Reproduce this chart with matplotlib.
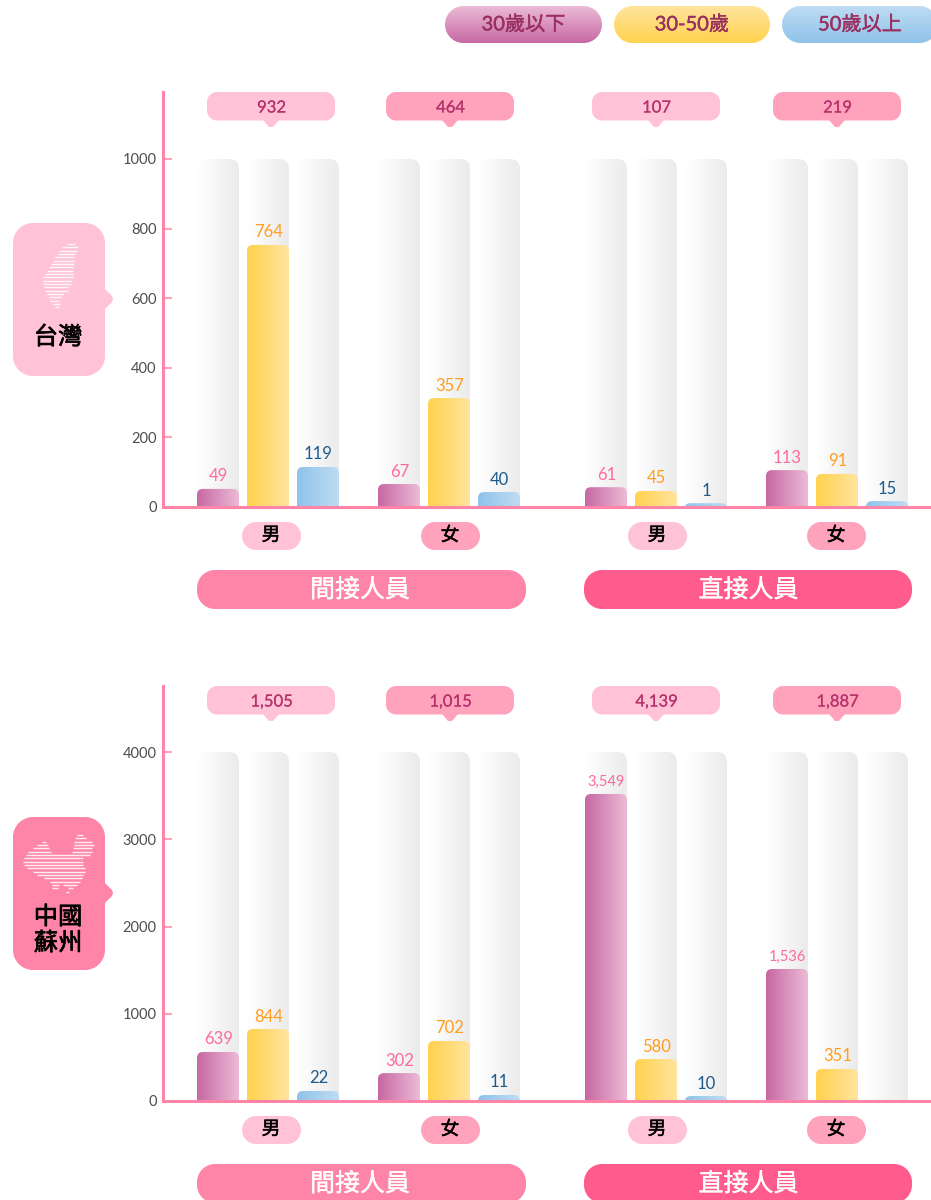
import numpy as np
import matplotlib
matplotlib.use("Agg")
import matplotlib.pyplot as plt
import matplotlib.patheffects as pe
from matplotlib.patches import Polygon, PathPatch
from matplotlib.path import Path
from matplotlib.colors import LinearSegmentedColormap

# ---------- data ----------
age_groups = ["30歲以下", "30-50歲", "50歲以上"]
genders = ["男", "女", "男", "女"]
staff_types = ["間接人員", "直接人員"]
region_names = ["台灣", "中國\n蘇州"]

tw_bar_under30 = [52, 66, 57, 106]
tw_bar_30to50 = [753, 313, 46, 95]
tw_bar_over50 = [115, 43, 11, 17]
tw_lab_under30 = ["49", "67", "61", "113"]
tw_lab_30to50 = ["764", "357", "45", "91"]
tw_lab_over50 = ["119", "40", "1", "15"]
tw_totals = ["932", "464", "107", "219"]
tw_ticks = [0, 200, 400, 600, 800, 1000]

cn_bar_under30 = [562, 320, 3519, 1513]
cn_bar_30to50 = [825, 688, 481, 367]
cn_bar_over50 = [115, 69, 57, 0]
cn_lab_under30 = ["639", "302", "3,549", "1,536"]
cn_lab_30to50 = ["844", "702", "580", "351"]
cn_lab_over50 = ["22", "11", "10", ""]
cn_totals = ["1,505", "1,015", "4,139", "1,887"]
cn_ticks = [0, 1000, 2000, 3000, 4000]

# ---------- style / layout ----------
W, H = 931, 1200
FONT = ["Lato", "Noto Sans CJK TC", "DejaVu Sans"]
plt.rcParams["font.family"] = FONT
PINK_L, PINK_M, PINK_D, PINK_X = "#ffc2d6", "#ffa3bc", "#ff85a8", "#ff5c8d"
GRADS = [("#c768a3", "#ebbbd6"), ("#ffd24f", "#ffe49c"), ("#8fc3ea", "#bedcf3")]
LABEL_COL = ["#ff6b98", "#ff9d1e", "#1c5a8c"]
TEXT_MAROON = "#99305f"
TOTAL_COL = "#b5326b"

group_left = [197, 378, 585, 766]
bar_w, bar_step, radius = 42, 50, 8
callout_c = [271, 450, 656, 837]
gender_c = [271.5, 450.5, 657.5, 836.5]
AXIS_X = 163

fig = plt.figure(figsize=(W / 100, H / 100), dpi=100, facecolor="white")
ov = fig.add_axes([0, 0, 1, 1], zorder=2)
ov.set_xlim(0, W)
ov.set_ylim(H, 0)
ov.axis("off")
ov.patch.set_alpha(0)


def grad_cmap(a, b):
    return LinearSegmentedColormap.from_list("g", [a, b])


def faux(color, w=0.45):
    return [pe.withStroke(linewidth=w, foreground=color)]


def round_rect_path(x0, y0, x1, y1, r):
    k = r * 0.4477
    v = [(x0 + r, y0), (x1 - r, y0), (x1 - k, y0), (x1, y0 + k), (x1, y0 + r),
         (x1, y1 - r), (x1, y1 - k), (x1 - k, y1), (x1 - r, y1),
         (x0 + r, y1), (x0 + k, y1), (x0, y1 - k), (x0, y1 - r),
         (x0, y0 + r), (x0, y0 + k), (x0 + k, y0), (x0 + r, y0), (x0 + r, y0)]
    c = [Path.MOVETO, Path.LINETO, Path.CURVE4, Path.CURVE4, Path.CURVE4,
         Path.LINETO, Path.CURVE4, Path.CURVE4, Path.CURVE4,
         Path.LINETO, Path.CURVE4, Path.CURVE4, Path.CURVE4,
         Path.LINETO, Path.CURVE4, Path.CURVE4, Path.CURVE4, Path.CLOSEPOLY]
    return Path(v, c)


def pill(x0, y0, x1, y1, r, color, ax=ov, z=2):
    p = PathPatch(round_rect_path(x0, y0, x1, y1, r), fc=color, ec="none", zorder=z)
    ax.add_patch(p)
    return p


def top_round_path(x0, x1, y0, y1, rx, ry):
    ry = min(ry, (y1 - y0))
    rx = min(rx, (x1 - x0) / 2)
    verts = [(x0, y0), (x0, y1 - ry), (x0, y1), (x0 + rx, y1), (x1 - rx, y1),
             (x1, y1), (x1, y1 - ry), (x1, y0), (x0, y0)]
    codes = [Path.MOVETO, Path.LINETO, Path.CURVE3, Path.CURVE3, Path.LINETO,
             Path.CURVE3, Path.CURVE3, Path.LINETO, Path.CLOSEPOLY]
    return Path(verts, codes)


def gradient_bar(ax, rect, c0, c1, ppu, z, r=radius):
    x0, w, h = rect.get_x(), rect.get_width(), rect.get_height()
    if h <= 0:
        return
    patch = PathPatch(top_round_path(x0, x0 + w, 0, h, r, r / ppu),
                      fc="none", ec="none", transform=ax.transData)
    ax.add_patch(patch)
    im = ax.imshow(np.linspace(0, 1, 64)[None, :], cmap=grad_cmap(c0, c1),
                   extent=(x0, x0 + w, 0, h), aspect="auto",
                   interpolation="bilinear", zorder=z)
    im.set_clip_path(patch)


def panel(y_zero, y_top, ppu, track, ticks, bars, labels, totals, region,
          region_col, icon_rows, icon_y0, pill_y):
    top_val = (y_zero - y_top) / ppu
    ax = fig.add_axes([AXIS_X / W, 1 - y_zero / H, (W - AXIS_X) / W, (y_zero - y_top) / H], zorder=1)
    ax.patch.set_alpha(0)
    for s in ("top", "right"):
        ax.spines[s].set_visible(False)
    for s in ("left", "bottom"):
        ax.spines[s].set_color(PINK_D)
        ax.spines[s].set_linewidth(2.2)
    ax.set_xticks([])
    ax.set_yticks(ticks)
    ax.set_yticklabels([str(t) for t in ticks], fontsize=10.5, color="#4d4d4d")
    ax.tick_params(axis="y", direction="in", length=6.5, width=1.1, color=PINK_D, pad=4.5)

    for a in range(3):
        xs = [g + bar_step * a + bar_w / 2 for g in group_left]
        tr = ax.bar(xs, [track] * 4, width=bar_w, color="none", zorder=1)
        for r in tr:
            gradient_bar(ax, r, "#ffffff", "#ebebeb", ppu, 1, r=10)
        bs = ax.bar(xs, bars[a], width=bar_w, color="none", zorder=2)
        for r, lab in zip(bs, labels[a]):
            gradient_bar(ax, r, GRADS[a][0], GRADS[a][1], ppu, 2, r=6)
            size = 10.5 if len(lab) > 3 else 12
            ax.annotate(lab, (r.get_x() + r.get_width() / 2 + 0.5, r.get_height()),
                        xytext=(0, 9), textcoords="offset points", ha="center",
                        va="center", fontsize=size, color=LABEL_COL[a], zorder=4)
    ax.set_xlim(AXIS_X, W)
    ax.set_ylim(0, top_val)

    # total call-outs
    for i, (c, t) in enumerate(zip(callout_c, totals)):
        col = PINK_L if i % 2 == 0 else PINK_M
        y = y_top
        pill(c - 64, y, c + 64, y + 28.5, 10, col)
        ov.add_patch(Polygon([(c - 8, y + 28), (c - 2, y + 35), (c + 2, y + 35), (c + 8, y + 28)],
                             fc=col, ec="none", zorder=2))
        ov.text(c + 0.5, y + 15.5, t, ha="center", va="center", fontsize=12, color=TOTAL_COL,
                zorder=3, path_effects=faux(TOTAL_COL, 0.1))

    # gender pills
    for i, (c, g) in enumerate(zip(gender_c, genders)):
        col = PINK_L if i % 2 == 0 else PINK_M
        pill(c - 29.5, y_zero + 15, c + 29.5, y_zero + 43, 14, col)
        ov.text(c - 0.5, y_zero + 28, g, ha="center", va="center", fontsize=13.5,
                color="black", zorder=3, path_effects=faux("black", 0.35))

    # staff type pills
    for (x0, x1, col, t, dx) in [(197, 526, PINK_D, staff_types[0], -1.5),
                                 (584, 912, PINK_X, staff_types[1], 0.5)]:
        pill(x0, pill_y, x1, pill_y + 39, 18, col)
        ov.text((x0 + x1) / 2 + dx, pill_y + 19.5, t, ha="center", va="center", fontsize=18,
                color="white", zorder=3, path_effects=faux("white", 0.25))

    # region call-out
    y0 = y_zero - 284
    pill(13, y0, 105, y0 + 153, 20, region_col)
    ym = y0 + 76
    ov.add_patch(Polygon([(104, ym - 11), (112, ym - 3), (113, ym), (112, ym + 3), (104, ym + 11)],
                         fc=region_col, ec="none", zorder=2))
    for k, row in enumerate(icon_rows):
        yy = icon_y0 + k * 10 / 3
        for a, b in row:
            ov.plot([a / 3, b / 3], [yy, yy], color="white", alpha=0.85, lw=1.0,
                    solid_capstyle="butt", zorder=3)
    lines = region.split("\n")
    ly = [y0 + 114] if len(lines) == 1 else [y0 + 100, y0 + 126]
    for t, yy in zip(lines, ly):
        ov.text(58, yy, t, ha="center", va="center", fontsize=17.5,
                color="black", zorder=3, path_effects=faux("black", 0.5))
    return ax


tw_icon = [[(200, 225)], [(185, 235)], [(178, 232)], [(172, 225)], [(165, 222)], [(158, 222)],
           [(152, 222)], [(148, 220)], [(142, 220)], [(135, 218)], [(130, 218)], [(130, 215)],
           [(130, 212)], [(132, 205)], [(135, 205)], [(140, 190)], [(147, 182)], [(150, 178)],
           [(160, 180)], [(165, 178)]]
cn_icon = [[(230, 250)], [(225, 258)], [(125, 138), (222, 275)], [(110, 145), (222, 283)],
           [(100, 148), (220, 275)], [(85, 152), (215, 275)], [(78, 270)], [(72, 250)],
           [(70, 248)], [(72, 248)], [(80, 255)], [(100, 255)], [(110, 250)], [(132, 245)],
           [(150, 240)], [(155, 178), (190, 230)], [(155, 175), (205, 220)], [(197, 208)]]

panel(507, 92, 0.348, 1000, tw_ticks,
      [tw_bar_under30, tw_bar_30to50, tw_bar_over50],
      [tw_lab_under30, tw_lab_30to50, tw_lab_over50],
      tw_totals, region_names[0], PINK_L, tw_icon, 244, 570)
panel(1101, 686, 0.08725, 4000, cn_ticks,
      [cn_bar_under30, cn_bar_30to50, cn_bar_over50],
      [cn_lab_under30, cn_lab_30to50, cn_lab_over50],
      cn_totals, region_names[1], PINK_D, cn_icon, 835, 1164)

# ---------- legend pills ----------
for (x0, x1), name, (c0, c1) in zip([(445, 602), (614, 770), (782, 938)], age_groups, GRADS):
    p = pill(x0, 6, x1, 43, 18.5, "none")
    im = ov.imshow(np.linspace(0, 1, 64)[:, None], cmap=grad_cmap(c1, c0),
                   extent=(x0, x1, 43, 6), aspect="auto", interpolation="bilinear", zorder=2)
    im.set_clip_path(p)
    ov.text((x0 + x1) / 2, 24, name, ha="center", va="center", fontsize=14.5,
            color=TEXT_MAROON, zorder=3, path_effects=faux(TEXT_MAROON, 0.3))
ov.set_xlim(0, W)
ov.set_ylim(H, 0)

fig.savefig("out.png", dpi=100, facecolor="white")
